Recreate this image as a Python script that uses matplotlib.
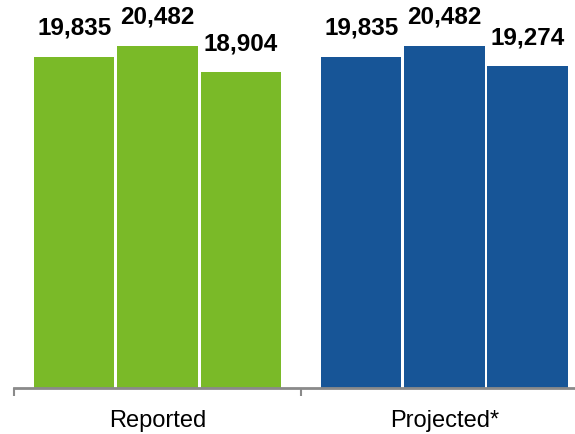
import numpy as np
import matplotlib.pyplot as plt

groups = ['Reported', 'Projected*']
reported = [19835, 20482, 18904]
projected = [19835, 20482, 19274]
colors = ['#7aba28', '#175597']

plt.rcParams['font.family'] = ['Liberation Sans', 'DejaVu Sans']

fig = plt.figure(figsize=(5.75, 4.35), dpi=100)
ax = fig.add_axes([14 / 575, 46 / 435, 561 / 575, 389 / 435])

w = 0.28
offs = np.array([-0.29, 0.0, 0.29])
for gi, (vals, col) in enumerate(zip([reported, projected], colors)):
    xs = gi + offs
    ax.bar(xs, vals, width=w, color=col, edgecolor='none')
    for x, v in zip(xs, vals):
        ax.annotate(f'{v:,}', (x, v), xytext=(0, 13), textcoords='offset points',
                    ha='center', va='bottom', fontsize=17.5, fontweight='bold')

ax.set_xlim(-0.5, 1.455)
ax.set_ylim(0, 23300)
ax.set_yticks([])
ax.set_xticks([-0.5, 0.5])
ax.set_xticklabels([])
ax.tick_params(axis='x', length=6, width=1.5, color='#8a8a8a')
for x, name in enumerate(groups):
    ax.text(x, -0.082, name, transform=ax.get_xaxis_transform(),
            ha='center', va='center', fontsize=17)

for s in ['top', 'right', 'left']:
    ax.spines[s].set_visible(False)
ax.spines['bottom'].set_color('#8a8a8a')
ax.spines['bottom'].set_linewidth(2)

fig.savefig('out.png', dpi=100)
